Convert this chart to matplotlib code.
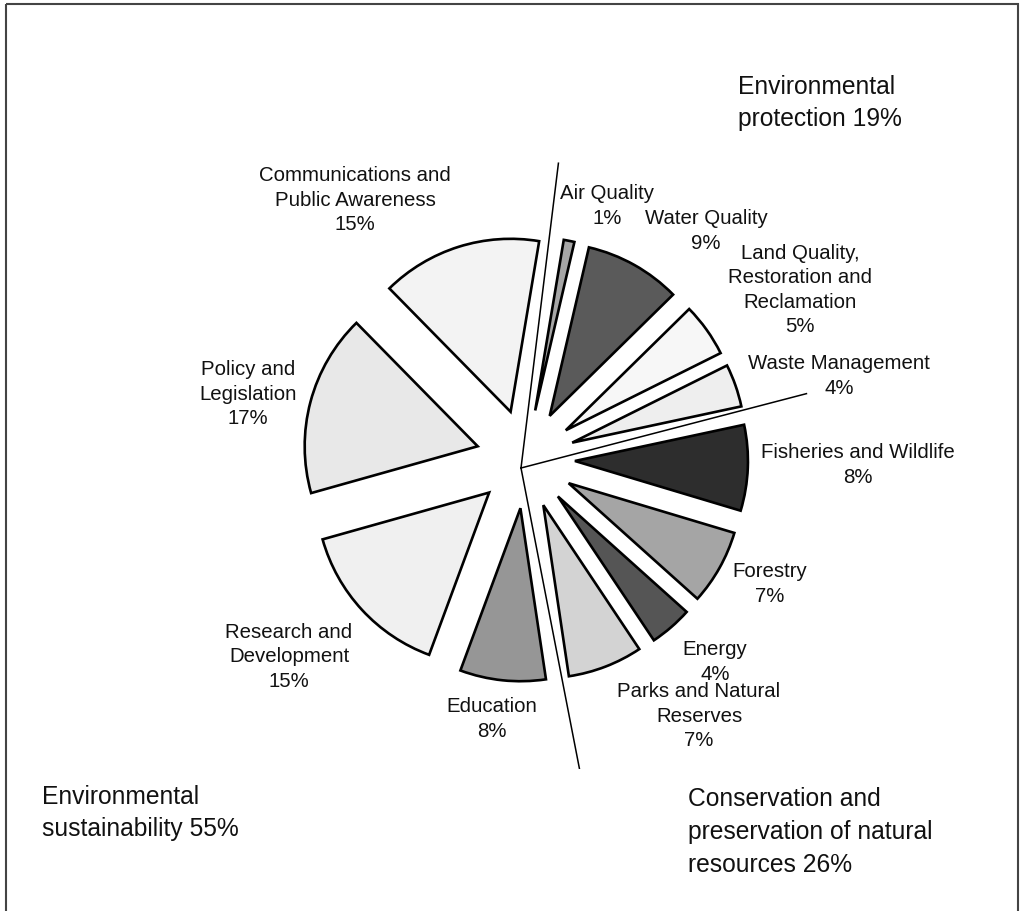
import numpy as np
import matplotlib
matplotlib.use('Agg')
import matplotlib.pyplot as plt
from matplotlib.patches import Rectangle

plt.rcParams['font.family'] = ['Liberation Sans', 'DejaVu Sans']

# slices, clockwise from the top
labels = ['Air Quality', 'Water Quality', 'Land Quality,\nRestoration and\nReclamation',
          'Waste Management', 'Fisheries and Wildlife', 'Forestry', 'Energy',
          'Parks and Natural\nReserves', 'Education', 'Research and\nDevelopment',
          'Policy and\nLegislation', 'Communications and\nPublic Awareness']
values = [1, 9, 5, 4, 8, 7, 4, 7, 8, 15, 17, 15]
colors = ['#a6a6a6', '#5a5a5a', '#f7f7f7', '#eeeeee', '#2d2d2d', '#a5a5a5',
          '#555555', '#d3d3d3', '#969696', '#f0f0f0', '#e8e8e8', '#f3f3f3']

# the three themes, each made of 4 consecutive slices
groups = ['Environmental\nprotection', 'Conservation and\npreservation of natural\nresources',
          'Environmental\nsustainability']
group_slices = [4, 4, 4]

W, H = 1021, 911
R = 173.0                 # pie radius in pixels
cx, cy = 525.5, 459.0     # pie centre (image pixels, y down)

fig = plt.figure(figsize=(W / 100, H / 100), dpi=100)

# pie axes: radius 1 == R pixels
S = 620
ax = fig.add_axes([(cx - S / 2) / W, (H - cy - S / 2) / H, S / W, S / H])
ax.pie(values, explode=[0.286] * len(values), startangle=80.5, counterclock=False,
       colors=colors, radius=1,
       wedgeprops=dict(edgecolor='black', linewidth=1.9))
lim = S / 2 / R
ax.set_xlim(-lim, lim)
ax.set_ylim(-lim, lim)
ax.set_aspect('auto')
ax.axis('off')

# separator lines between the themes
starts = np.cumsum([0] + group_slices[:-1])
group_pct = [sum(values[i:i + n]) for i, n in zip(starts, group_slices)]
bounds = np.cumsum([0] + group_pct[:-1])
line_ang = np.radians(83 - 3.6 * bounds)
line_len = [1.775, 1.705, 1.81]
ox, oy = -4.5 / R, -9 / R
for a, L in zip(line_ang, line_len):
    ax.plot([ox, ox + L * np.cos(a)], [oy, oy + L * np.sin(a)], color='black', lw=1.1)

# overlay axes in image pixels for the text and frame
ov = fig.add_axes([0, 0, 1, 1])
ov.set_xlim(0, W)
ov.set_ylim(H, 0)
ov.axis('off')
ov.add_patch(Rectangle((5.5, 3.5), 1012.5, 920, fill=False, edgecolor='#444444', lw=1.5))

label_pos = [(607, 206), (706, 231), (800, 290), (839, 376), (858, 465), (770, 584),
             (715, 662), (699, 716), (492, 719), (289, 657), (248, 394), (355, 200)]
for lab, v, (x, y) in zip(labels, values, label_pos):
    ov.text(x, y, f'{lab}\n{v}%', ha='center', va='center', fontsize=14.7,
            linespacing=1.37, color='#111111')

group_pos = [(738, 103), (688, 832), (42, 813)]
for g, p, (x, y) in zip(groups, group_pct, group_pos):
    ov.text(x, y, f'{g} {p}%', ha='left', va='center', fontsize=17.7,
            linespacing=1.45, color='#111111')

fig.savefig('out.png', dpi=100)
